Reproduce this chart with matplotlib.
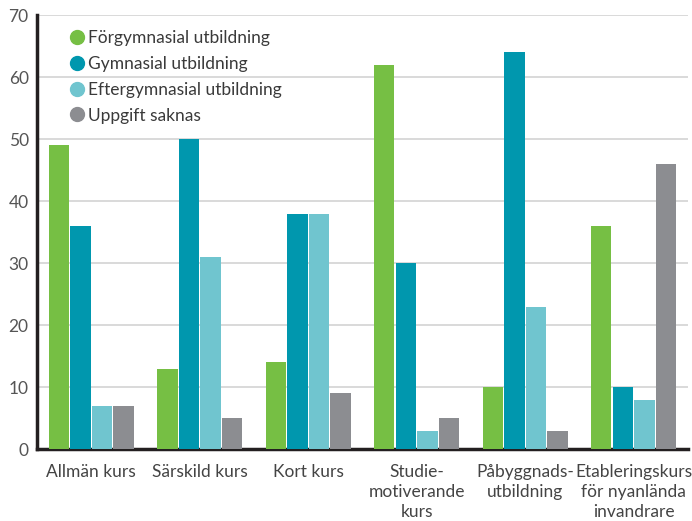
import matplotlib
matplotlib.use("Agg")
import matplotlib.pyplot as plt
import numpy as np
from matplotlib.lines import Line2D

categories = ["Allmän kurs", "Särskild kurs", "Kort kurs", "Studie-\nmotiverande\nkurs",
              "Påbyggnads-\nutbildning", "Etableringskurs\nför nyanlända\ninvandrare"]
series_names = ["Förgymnasial utbildning", "Gymnasial utbildning",
                "Eftergymnasial utbildning", "Uppgift saknas"]
forgymnasial = [49, 13, 14, 62, 10, 36]
gymnasial = [36, 50, 38, 30, 64, 10]
eftergymnasial = [7, 31, 38, 3, 23, 8]
saknas = [7, 5, 9, 5, 3, 46]
yticks = [0, 10, 20, 30, 40, 50, 60, 70]

colors = ["#76BF44", "#0097AE", "#70C5CF", "#8C8D91"]
values = [forgymnasial, gymnasial, eftergymnasial, saknas]

plt.rcParams['font.family'] = ['Lato', 'DejaVu Sans']

fig = plt.figure(figsize=(6.92, 5.21), dpi=100)
ax = fig.add_axes([0.0535, 0.138, 0.9405, 0.833])

x = np.arange(len(categories))
step = 0.199
width = 0.188
for i, (vals, c) in enumerate(zip(values, colors)):
    ax.bar(x + (i - 1.5) * step, vals, width=width, color=c, zorder=3)

ax.set_xlim(-0.5, len(categories) - 0.5)
ax.set_ylim(0, 70)
ax.set_yticks(yticks)
ax.set_yticklabels([str(t) for t in yticks], fontsize=12.5, color="#555555")
ax.set_xticks(x)
ax.set_xticklabels(categories, fontsize=12.5, color="#444444", linespacing=1.3)
ax.tick_params(axis='both', length=0)
ax.tick_params(axis='y', pad=6)
ax.tick_params(axis='x', pad=11)

ax.grid(axis='y', color="#d3d3d3", linewidth=1.2, zorder=0)
for s in ["top", "right"]:
    ax.spines[s].set_visible(False)
for s in ["left", "bottom"]:
    ax.spines[s].set_color("#231F20")
    ax.spines[s].set_linewidth(2.5)

handles = [Line2D([0], [0], marker='o', linestyle='none', markersize=10,
                  markerfacecolor=c, markeredgecolor=c) for c in colors]
leg = ax.legend(handles, series_names, loc='upper left', bbox_to_anchor=(0.037, 0.982),
                frameon=False, prop={'size': 12.5},
                handletextpad=0.15, labelspacing=0.57,
                handlelength=1.0, borderaxespad=0)
for t in leg.get_texts():
    t.set_color("#3a3a3a")

fig.savefig("out.png", dpi=100)
